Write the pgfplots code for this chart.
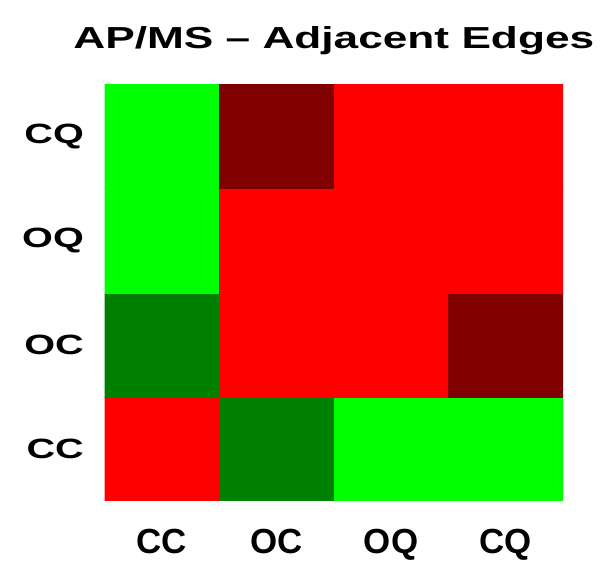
\documentclass[border=0pt]{standalone}
\usepackage{fontspec}
\setmainfont{Liberation Sans}
\usepackage{graphicx}
\usepackage{pgfplots}
\pgfplotsset{compat=1.18}

\newcommand{\wide}[1]{\scalebox{1.42}[1]{#1}}

\begin{document}
\begin{tikzpicture}[x=1bp,y=1bp]
  \begin{axis}[
    at={(91.2,-481.2)}, anchor=south west,
    scale only axis,
    width=458.5bp, height=416.4bp,
    xmin=-0.5, xmax=3.5, ymin=-0.5, ymax=3.5,
    xtick={0,1,2,3}, ytick={0,1,2,3},
    xticklabels={CC,OC,OQ,CQ},
    yticklabels={\wide{CC},\wide{OC},\wide{OQ},\wide{CQ}},
    xticklabel style={font=\fontsize{35}{38}\selectfont\bfseries,
      anchor=north, inner sep=0pt, yshift=-28bp},
    yticklabel style={font=\fontsize{28}{30}\selectfont\bfseries,
      anchor=east, inner sep=0pt, xshift=-20.5bp},
    major tick length=0pt,
    axis line style={draw=none},
    title={\scalebox{1.455}[1]{AP/MS -- Adjacent Edges}},
    title style={font=\fontsize{30.5}{33}\selectfont\bfseries,
      anchor=base, at={(0.5,1)}, xshift=0bp, yshift=30bp},
    colormap={hm}{rgb255=(0,255,0) rgb255=(0,128,0) rgb255=(255,0,0) rgb255=(128,0,0)},
    colormap access=direct,
  ]
    % meta: 0 green, 1 dark green, 2 red, 3 dark red
    \addplot[matrix plot*, mesh/cols=4, point meta=explicit] table[meta=c] {
      x y c
      0 0 2
      1 0 1
      2 0 0
      3 0 0
      0 1 1
      1 1 2
      2 1 2
      3 1 3
      0 2 0
      1 2 2
      2 2 2
      3 2 2
      0 3 0
      1 3 3
      2 3 2
      3 3 2
    };
  \end{axis}
  \pgfresetboundingbox
  \path[use as bounding box] (0,0) rectangle (609,-585);
\end{tikzpicture}
\end{document}
